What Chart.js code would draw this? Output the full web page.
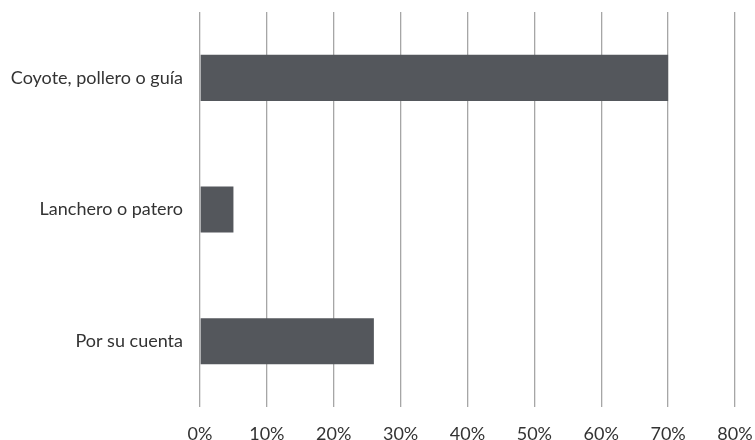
<!DOCTYPE html>
<html><head><meta charset="utf-8">
<script src="https://cdn.jsdelivr.net/npm/chart.js@4.4.1/dist/chart.umd.min.js"></script>
<style>html,body{margin:0;padding:0;background:#fff}#wrap{width:755px;height:440px}</style>
</head><body><div id="wrap"><canvas id="c" width="755" height="440"></canvas></div>
<script>
const categories = ["Coyote, pollero o guía", "Lanchero o patero", "Por su cuenta"];
const values = [70, 5, 26];
const tickValues = [0, 10, 20, 30, 40, 50, 60, 70, 80];

new Chart(document.getElementById('c'), {
  type: 'bar',
  data: {
    labels: categories,
    datasets: [{ data: values, backgroundColor: '#54575c', borderWidth: 0, barPercentage: 0.7, categoryPercentage: 0.5 }]
  },
  options: {
    indexAxis: 'y',
    responsive: false,
    animation: false,
    layout: { padding: { top: 12, right: 20, left: 0, bottom: 0 } },
    plugins: { legend: { display: false }, tooltip: { enabled: false } },
    scales: {
      x: {
        min: 0, max: 80,
        afterBuildTicks: (s) => { s.ticks = tickValues.map(v => ({ value: v })); },
        afterFit: (s) => { s.height = 33; s.paddingLeft = 0; s.paddingRight = 0; },
        border: { display: false },
        grid: { color: '#a6a6a6', lineWidth: 1.3, drawTicks: false },
        ticks: { padding: 16, color: '#333333', font: { family: 'Lato', size: 18 }, callback: (v) => v + '%' }
      },
      y: {
        afterFit: (s) => { s.width = 200; s.paddingTop = 0; s.paddingBottom = 0; },
        border: { display: false },
        grid: { display: false, drawTicks: false },
        ticks: { padding: 17, color: '#333333', font: { family: 'Lato', size: 18 } }
      }
    }
  }
});
</script></body></html>
